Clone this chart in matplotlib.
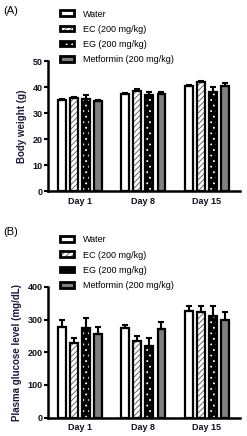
import numpy as np
import matplotlib
matplotlib.use("Agg")
import matplotlib.pyplot as plt
from matplotlib.patches import Patch

plt.rcParams["font.family"] = ["Liberation Sans", "DejaVu Sans"]
plt.rcParams["hatch.linewidth"] = 0.6

days = ["Day 1", "Day 8", "Day 15"]
groups = ["Water", "EC (200 mg/kg)", "EG (200 mg/kg)", "Metformin (200 mg/kg)"]

# body weight (g)
bw_mean = {
    "Water": [35.0, 37.4, 40.4],
    "EC (200 mg/kg)": [35.7, 38.7, 42.0],
    "EG (200 mg/kg)": [35.3, 37.0, 38.2],
    "Metformin (200 mg/kg)": [34.5, 37.2, 40.6],
}
bw_err = {
    "Water": [0.6, 0.5, 0.6],
    "EC (200 mg/kg)": [0.5, 0.5, 0.5],
    "EG (200 mg/kg)": [1.5, 1.2, 2.0],
    "Metformin (200 mg/kg)": [0.6, 0.8, 0.9],
}

# plasma glucose (mg/dL)
glu_mean = {
    "Water": [276, 273, 327],
    "EC (200 mg/kg)": [229, 235, 322],
    "EG (200 mg/kg)": [273, 220, 312],
    "Metformin (200 mg/kg)": [255, 270, 300],
}
glu_err = {
    "Water": [22, 11, 15],
    "EC (200 mg/kg)": [15, 16, 20],
    "EG (200 mg/kg)": [32, 25, 30],
    "Metformin (200 mg/kg)": [22, 24, 23],
}

styles = {
    "Water": dict(fc="white", ec="black", hatch=None),
    "EC (200 mg/kg)": dict(fc="white", ec="#555555", hatch="//////"),
    "EG (200 mg/kg)": dict(fc="black", ec="white", hatch="..."),
    "Metformin (200 mg/kg)": dict(fc="#808080", ec="black", hatch=None),
}

label_color = "#1a1a40"
x = np.arange(len(days))
width = 0.125
offsets = [-0.285, -0.095, 0.095, 0.285]


def draw_panel(ax, means, errs, ylim, yticks, ylabel):
    for g, off in zip(groups, offsets):
        st = styles[g]
        # fill (with hatch) then black outline on top
        ax.bar(x + off, means[g], width, color=st["fc"], edgecolor=st["ec"],
               hatch=st["hatch"], linewidth=0, zorder=2)
        ax.bar(x + off, means[g], width, fill=False, edgecolor="black",
               linewidth=1.6, zorder=3)
        ax.errorbar(x + off, means[g],
                    yerr=[np.zeros(len(days)), errs[g]],
                    fmt="none", ecolor="black", elinewidth=1.5,
                    capsize=2.5, capthick=1.5, zorder=4)

    ax.set_xlim(-0.5, 2.52)
    ax.set_ylim(*ylim)
    ax.set_yticks(yticks)
    ax.set_xticks(x)
    ax.set_xticklabels(days, fontsize=6.5, fontweight="bold", color="#101020")
    ax.tick_params(axis="x", length=0, pad=4)
    ax.tick_params(axis="y", length=3, width=1.5, labelsize=6.5, pad=1,
                   labelcolor="#101020")
    for lab in ax.get_yticklabels():
        lab.set_fontweight("bold")
    ax.spines["top"].set_visible(False)
    ax.spines["right"].set_visible(False)
    ax.spines["left"].set_linewidth(1.8)
    ax.spines["bottom"].set_linewidth(1.8)
    ax.set_ylabel(ylabel, fontsize=7, fontweight="bold", color=label_color, labelpad=4)

    handles = []
    for g in groups:
        st = styles[g]
        handles.append((Patch(facecolor=st["fc"], edgecolor=st["ec"], hatch=st["hatch"], linewidth=0),
                        Patch(fill=False, edgecolor="black", linewidth=2.0)))
    ax.legend(handles, groups, loc="lower left", bbox_to_anchor=(0.045, 0.95),
              frameon=False, fontsize=6.5, handlelength=1.55, handleheight=0.6,
              labelspacing=0.68, handletextpad=0.95, borderaxespad=0)


fig = plt.figure(figsize=(2.47, 4.36), dpi=100)
ax1 = fig.add_axes([0.194, 0.561, 0.778, 0.299])
ax2 = fig.add_axes([0.194, 0.042, 0.778, 0.300])

draw_panel(ax1, bw_mean, bw_err, (0, 50), [0, 10, 20, 30, 40, 50], "Body weight (g)")
draw_panel(ax2, glu_mean, glu_err, (0, 400), [0, 100, 200, 300, 400], "Plasma glucose level (mg/dL)")

fig.text(0.012, 0.975, "(A)", fontsize=8, va="center", ha="left")
fig.text(0.012, 0.468, "(B)", fontsize=8, va="center", ha="left")

fig.savefig("out.png", dpi=100)
